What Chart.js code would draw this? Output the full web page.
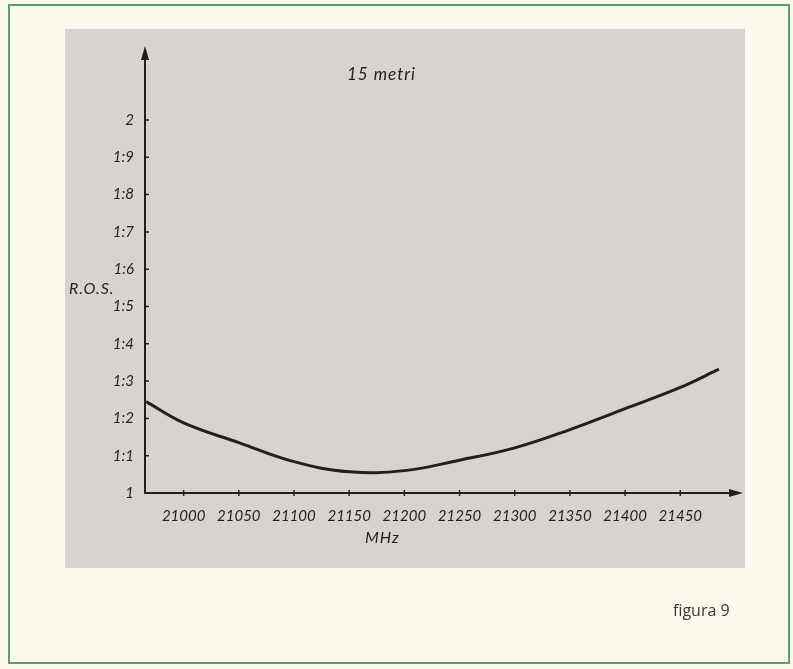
<!DOCTYPE html>
<html>
<head>
<meta charset="utf-8">
<script src="https://cdn.jsdelivr.net/npm/chart.js@4/dist/chart.umd.min.js"></script>
<style>
  body { margin: 0; background: #fcfaee; width: 793px; height: 669px; overflow: hidden; position: relative; }
  #frame { position: absolute; left: 8px; top: 4px; width: 778px; height: 656px; border: 2px solid #5e9f72; }
  #photo { position: absolute; left: 65px; top: 29px; width: 680px; height: 539px; background: #d7d3d0; }
  canvas { position: absolute; left: 0; top: 0; }
  .lbl { position: absolute; font-family: Lato, "Open Sans", sans-serif; font-style: italic; color: #231f1e; }
  #fig { position: absolute; left: 673px; top: 599px; font-family: "Open Sans", sans-serif; font-size: 16px; color: #3a3432; }
</style>
</head>
<body>
<div id="frame"></div>
<div id="photo"></div>
<canvas id="rosChart" width="793" height="669"></canvas>
<div class="lbl" style="left:347px; top:63px; font-size:17px; letter-spacing:1px;">15 metri</div>
<div class="lbl" style="left:69px; top:278px; font-size:16px; letter-spacing:1px;">R.O.S.</div>
<div class="lbl" style="left:365px; top:527px; font-size:16px; letter-spacing:1px;">MHz</div>
<div id="fig">figura 9</div>
<script>
// dati
const freqMHz = [20966, 21000, 21050, 21100, 21150, 21200, 21250, 21300, 21350, 21400, 21450, 21485];
const rosValues = [1.245, 1.188, 1.135, 1.084, 1.057, 1.060, 1.088, 1.121, 1.170, 1.226, 1.283, 1.332];
const xTicks = [21000, 21050, 21100, 21150, 21200, 21250, 21300, 21350, 21400, 21450];
const yTicks = [1, 1.1, 1.2, 1.3, 1.4, 1.5, 1.6, 1.7, 1.8, 1.9, 2];
const yTickLabels = ['1', '1:1', '1:2', '1:3', '1:4', '1:5', '1:6', '1:7', '1:8', '1:9', '2'];

const ink = '#231f1e';
const tickFont = { family: 'Lato', style: 'italic', size: 15 };

// frecce sugli assi + tacche
const axesPlugin = {
  id: 'axesArrows',
  afterDraw(chart) {
    const ctx = chart.ctx;
    const a = chart.chartArea;
    const xs = chart.scales.x, ys = chart.scales.y;
    ctx.save();
    ctx.strokeStyle = ink;
    ctx.fillStyle = ink;
    ctx.lineWidth = 2;
    ctx.beginPath();
    ctx.moveTo(a.left, a.bottom);
    ctx.lineTo(a.left, a.top + 4);
    ctx.moveTo(a.left, a.bottom);
    ctx.lineTo(a.right - 4, a.bottom);
    ctx.stroke();
    ctx.lineWidth = 1.5;
    ctx.beginPath();
    xTicks.forEach(v => {
      const px = xs.getPixelForValue(v);
      ctx.moveTo(px, a.bottom - 3);
      ctx.lineTo(px, a.bottom + 3);
    });
    yTicks.forEach(v => {
      const py = ys.getPixelForValue(v);
      ctx.moveTo(a.left - 1, py);
      ctx.lineTo(a.left + 4, py);
    });
    ctx.stroke();
    // frecce
    ctx.beginPath();
    ctx.moveTo(a.left, a.top - 2);
    ctx.lineTo(a.left - 4, a.top + 12);
    ctx.lineTo(a.left + 4, a.top + 12);
    ctx.closePath();
    ctx.fill();
    ctx.beginPath();
    ctx.moveTo(a.right + 2, a.bottom);
    ctx.lineTo(a.right - 12, a.bottom - 4);
    ctx.lineTo(a.right - 12, a.bottom + 4);
    ctx.closePath();
    ctx.fill();
    ctx.restore();
  }
};

const ctx = document.getElementById('rosChart').getContext('2d');
new Chart(ctx, {
  type: 'line',
  data: {
    datasets: [{
      label: 'R.O.S.',
      data: freqMHz.map((f, i) => ({ x: f, y: rosValues[i] })),
      borderColor: ink,
      borderWidth: 3,
      pointRadius: 0,
      tension: 0.4,
      fill: false
    }]
  },
  options: {
    responsive: false,
    animation: false,
    devicePixelRatio: 1,
    layout: { padding: { top: 48, right: 52, left: 0, bottom: 669 - 493 - 30 } },
    plugins: {
      legend: { display: false },
      tooltip: { enabled: false }
    },
    scales: {
      x: {
        type: 'linear',
        min: 20965,
        max: 21505,
        afterFit: (s) => { s.height = 30; },
        afterBuildTicks: (s) => { s.ticks = xTicks.map(v => ({ value: v })); },
        grid: { display: false },
        border: { display: false },
        ticks: {
          color: ink,
          font: tickFont,
          padding: 6,
          maxRotation: 0,
          autoSkip: false,
          callback: (v) => String(v)
        }
      },
      y: {
        type: 'linear',
        min: 1,
        max: 2.193,
        afterFit: (s) => { s.width = 145; },
        afterBuildTicks: (s) => { s.ticks = yTicks.map(v => ({ value: v })); },
        grid: { display: false },
        border: { display: false },
        ticks: {
          color: ink,
          font: tickFont,
          padding: 3,
          autoSkip: false,
          callback: (v) => {
            const i = yTicks.findIndex(t => Math.abs(t - v) < 1e-6);
            return i >= 0 ? yTickLabels[i] : '';
          }
        }
      }
    }
  },
  plugins: [axesPlugin]
});
</script>
</body>
</html>
